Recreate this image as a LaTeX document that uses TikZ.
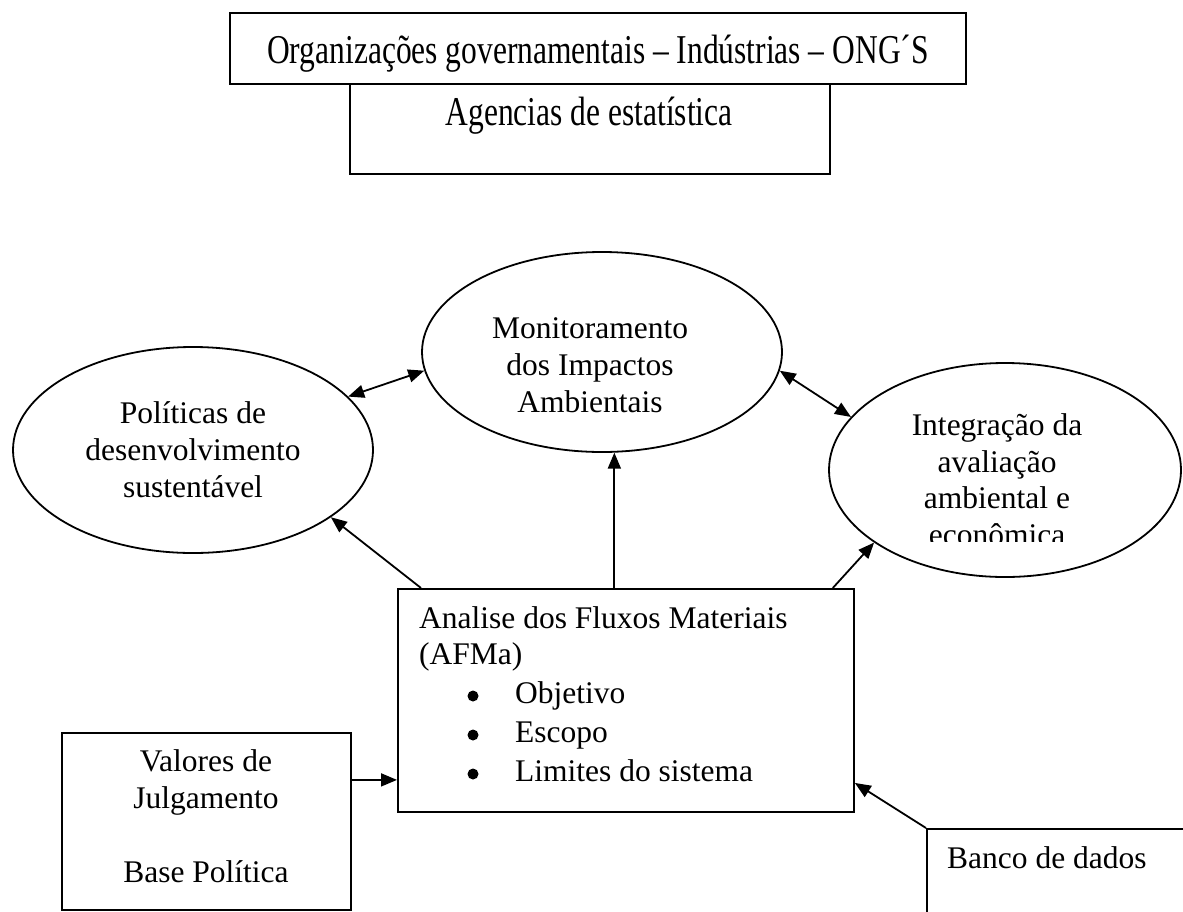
\documentclass[tikz,border=0pt]{standalone}
\usepackage{fontspec}
\setmainfont{Liberation Serif}
\usetikzlibrary{arrows.meta,shapes.geometric}
\newcommand{\fsz}{\fontsize{31.5pt}{37pt}\selectfont}
\newcommand{\tall}[1]{\scalebox{1}[1.3]{#1}}
\begin{document}
\begin{tikzpicture}[x=1pt,y=-1pt,
  box/.style={draw, line width=1.8pt, rectangle, inner sep=0pt, anchor=north west},
  ell/.style={draw, line width=1.8pt, ellipse, inner sep=0pt},
  txt/.style={inner sep=0pt, font=\fsz},
  bul/.style={circle, fill=black, inner sep=0pt, minimum size=11pt},
  arr/.style={line width=1.8pt, -{Triangle[length=16pt,width=13pt]}},
  darr/.style={line width=1.8pt, {Triangle[length=16pt,width=13pt]}-{Triangle[length=16pt,width=13pt]}}]
\clip (0,0) rectangle (1183,911);
\fill[white] (0,0) rectangle (1183,911);

% boxes
\node[box, minimum width=480pt, minimum height=90pt] (age) at (349,83) {};
\node[box, minimum width=736pt, minimum height=71pt] (org) at (229,12) {};
\node[box, minimum width=456pt, minimum height=223pt] (afm) at (397,588) {};
\node[box, minimum width=289pt, minimum height=177pt] (val) at (61,732) {};
\node[box, minimum width=300pt, minimum height=150pt] (ban) at (926,828) {};

% ellipses
\node[ell, minimum width=360pt, minimum height=206pt] (pol) at (193,450) {};
\node[ell, minimum width=360pt, minimum height=200pt] (mon) at (602,352) {};
\node[ell, minimum width=352pt, minimum height=214pt] (int) at (1005,470) {};

% texts
\node[txt, anchor=base west] (orgt) at (267,63) {\tall{Organizações governamentais – Indústrias – ONG´S}};
\node[txt, anchor=base] (aget) at (589,125) {\tall{Agencias de estatística}};

\node[txt, anchor=base] (pol1) at (193,423) {Políticas de};
\node[txt, anchor=base] (pol2) at (193,460) {desenvolvimento};
\node[txt, anchor=base] (pol3) at (193,497) {sustentável};

\node[txt, anchor=base] (mon1) at (590,338) {Monitoramento};
\node[txt, anchor=base] (mon2) at (590,375) {dos Impactos};
\node[txt, anchor=base] (mon3) at (590,412) {Ambientais};

\node[txt, anchor=base] (int1) at (997,435) {Integração da};
\node[txt, anchor=base] (int2) at (997,472) {avaliação};
\node[txt, anchor=base] (int3) at (997,508) {ambiental e};
\begin{scope}
  \clip (800,0) rectangle (1183,541);
  \node[txt, anchor=base] (int4) at (997,545) {econômica};
\end{scope}

\node[txt, anchor=base west] (afm1) at (419,628) {Analise dos Fluxos Materiais};
\node[txt, anchor=base west] (afm2) at (419,664) {(AFMa)};
\node[bul] (bul1) at (473,696) {};
\node[bul] (bul2) at (473,735) {};
\node[bul] (bul3) at (473,774) {};
\node[txt, anchor=base west] (afm3) at (515,703) {Objetivo};
\node[txt, anchor=base west] (afm4) at (515,742) {Escopo};
\node[txt, anchor=base west] (afm5) at (515,781) {Limites do sistema};

\node[txt, anchor=base] (val1) at (206,771) {Valores de};
\node[txt, anchor=base] (val2) at (206,808) {Julgamento};
\node[txt, anchor=base] (val3) at (206,882) {Base Política};

\node[txt, anchor=base west] (bant) at (947,868) {Banco de dados};

% connectors
\draw[arr] ([xshift=24pt]afm.north west) -- (pol.-26.2);
\draw[arr] (afm.north -| mon.-83.1) -- (mon.-83.1);
\draw[arr] ([xshift=-22pt]afm.north east) -- (int.209.2);
\draw[darr] (pol.19.3) -- (mon.186.3);
\draw[darr] (mon.-6.7) -- (int.161.2);
\draw[arr] ([yshift=41.5pt]val.east) -- ([yshift=41.5pt]val.east -| afm.west);
\draw[arr] (ban.north west) -- ([yshift=-82.5pt]afm.east);
\end{tikzpicture}
\end{document}
